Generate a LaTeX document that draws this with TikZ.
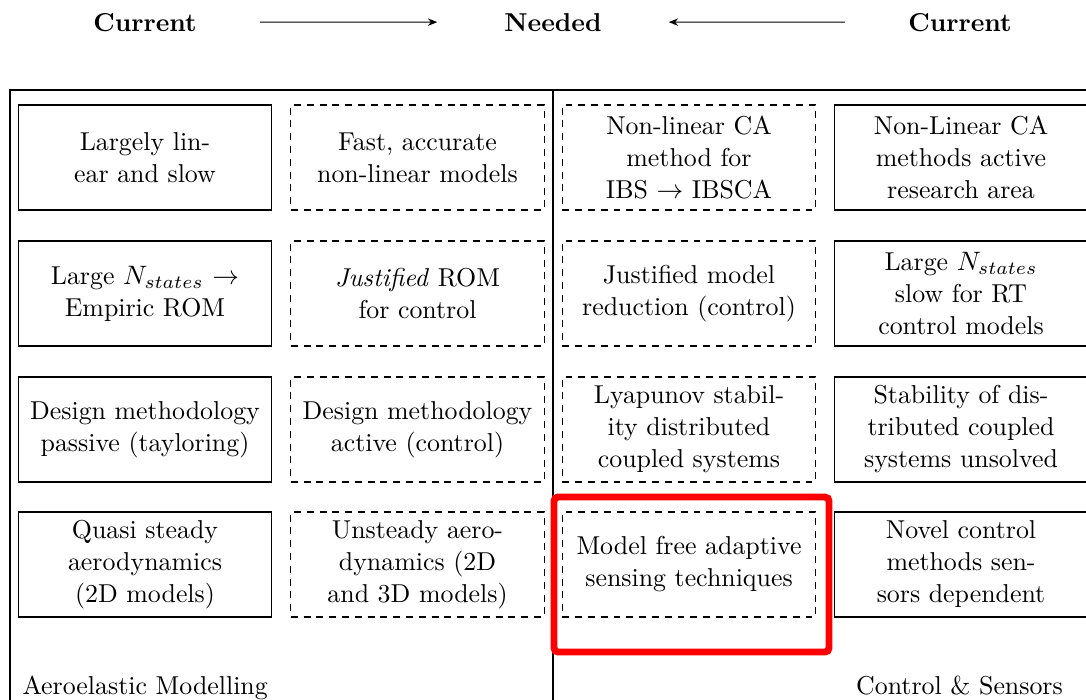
\documentclass[tikz,border=0pt]{standalone}
\usetikzlibrary{arrows.meta}
\begin{document}
\begin{tikzpicture}[x=0.375pt,y=-0.375pt,
  every node/.style={font=\fontsize{9.7}{12}\selectfont},
  cell/.style={minimum width=95pt,minimum height=39.4pt,align=center,inner sep=0pt,line width=0.45pt},
  solidbox/.style={cell,draw},
  dashbox/.style={cell,draw,dash pattern=on 2.6pt off 2.2pt},
  head/.style={font=\fontsize{9.7}{12}\selectfont\bfseries,inner sep=0pt,anchor=base},
  foot/.style={inner sep=0pt},
  tip/.style={-{Stealth[length=3.5pt,width=2.8pt]},line width=0.45pt},
  hl/.style={draw=red,line width=2.6pt,rounded corners=1.5pt}
]
\useasboundingbox (0,0) rectangle (1086,699);
% header
\node[head] (cur1) at (145,31) {Current};
\node[head] (need) at (553,31) {Needed};
\node[head] (cur2) at (960,31) {Current};
\draw[tip,shorten <=23.6pt,shorten >=25pt] (cur1.east) -- (need.west);
\draw[tip,shorten <=23.6pt,shorten >=25pt] (cur2.west) -- (need.east);
% frame
\draw[line width=0.45pt] (10,720) -- (10,90) -- (1100,90) -- (1100,720);
\draw[line width=0.45pt] (553,90) -- (553,720);
% row 1
\node[solidbox] (r1c1) at (145,157.5) {Largely lin-\\ear and slow};
\node[dashbox] (r1c2) at (417.5,157.5) {Fast, accurate\\non-linear models};
\node[dashbox] (r1c3) at (689,157.5) {Non-linear CA\\method for\\IBS $\rightarrow$ IBSCA};
\node[solidbox] (r1c4) at (961,157.5) {Non-Linear CA\\methods active\\research area};
% row 2
\node[solidbox] (r2c1) at (145,293.5) {Large $N_{states}$ $\rightarrow$\\Empiric ROM};
\node[dashbox] (r2c2) at (417.5,293.5) {\textit{Justified} ROM\\for control};
\node[dashbox] (r2c3) at (689,293.5) {Justified model\\reduction (control)};
\node[solidbox] (r2c4) at (961,293.5) {Large $N_{states}$\\slow for RT\\control models};
% row 3
\node[solidbox] (r3c1) at (145,429.5) {Design methodology\\passive (tayloring)};
\node[dashbox] (r3c2) at (417.5,429.5) {Design methodology\\active (control)};
\node[dashbox] (r3c3) at (689,429.5) {Lyapunov stabil-\\ity distributed\\coupled systems};
\node[solidbox] (r3c4) at (961,429.5) {Stability of dis-\\tributed coupled\\systems unsolved};
% row 4
\node[solidbox] (r4c1) at (145,564.5) {Quasi steady\\aerodynamics\\(2D models)};
\node[dashbox] (r4c2) at (417.5,564.5) {Unsteady aero-\\dynamics (2D\\and 3D models)};
\node[dashbox] (r4c3) at (689,564.5) {Model free adaptive\\sensing techniques};
\node[solidbox] (r4c4) at (961,564.5) {Novel control\\methods sen-\\sors dependent};
% highlight
\draw[hl] (554,497) rectangle (829,652);
% footer
\node[foot,anchor=base west] (lab1) at (22,694) {Aeroelastic Modelling};
\node[foot,anchor=base] (lab2) at (959.5,694) {Control \& Sensors};
\end{tikzpicture}
\end{document}
